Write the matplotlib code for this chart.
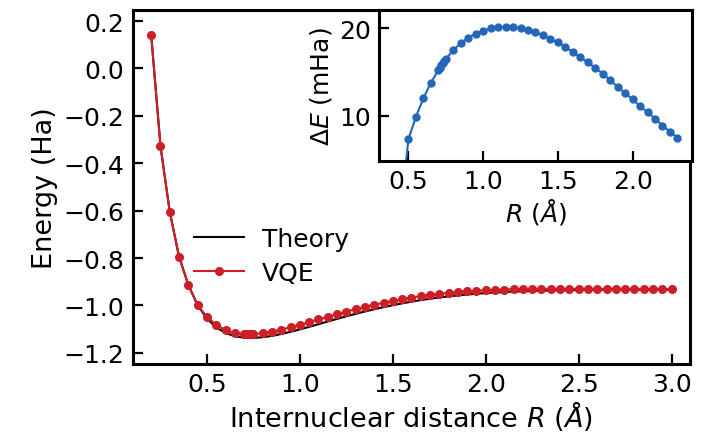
import matplotlib
matplotlib.use("Agg")
import matplotlib.pyplot as plt

plt.rcParams['font.family'] = ['DejaVu Sans']
plt.rcParams['font.size'] = 18
plt.rcParams['mathtext.fontset'] = 'dejavusans'

# bond lengths (Å)
r_main = [0.20, 0.25, 0.30, 0.35, 0.40, 0.45, 0.50, 0.55, 0.60, 0.65,
          0.70, 0.71, 0.72, 0.73, 0.74, 0.75, 0.80, 0.85, 0.90, 0.95,
          1.00, 1.05, 1.10, 1.15, 1.20, 1.25, 1.30, 1.35, 1.40, 1.45,
          1.50, 1.55, 1.60, 1.65, 1.70, 1.75, 1.80, 1.85, 1.90, 1.95,
          2.00, 2.05, 2.10, 2.15, 2.20, 2.25, 2.30, 2.35, 2.40, 2.45,
          2.50, 2.55, 2.60, 2.65, 2.70, 2.75, 2.80, 2.85, 2.90, 2.95, 3.00]

# exact energies (Ha)
e_theory = [0.140, -0.328, -0.606, -0.795, -0.9141, -0.9995, -1.0552, -1.0926, -1.1163, -1.1299,
            -1.1362, -1.1367, -1.1371, -1.1373, -1.1373, -1.1371, -1.1341, -1.1284, -1.1206, -1.1113,
            -1.1012, -1.0904, -1.0792, -1.0679, -1.0567, -1.0458, -1.0355, -1.0256, -1.0162, -1.0073,
            -0.9990, -0.9913, -0.9842, -0.9777, -0.9718, -0.9665, -0.9618, -0.9576, -0.9539, -0.9507,
            -0.9479, -0.9455, -0.9434, -0.9416, -0.9401, -0.9388, -0.9377, -0.9368, -0.9360, -0.9354,
            -0.9349, -0.9345, -0.9342, -0.9339, -0.9337, -0.9336, -0.9335, -0.9334, -0.9333, -0.9333, -0.9332]

# VQE energies (Ha)
e_vqe = [0.140, -0.328, -0.606, -0.794, -0.9135, -1.0000, -1.0478, -1.0827, -1.1043, -1.1161,
         -1.1210, -1.1212, -1.1213, -1.1213, -1.1210, -1.1206, -1.1166, -1.1101, -1.1017, -1.0919,
         -1.0815, -1.0704, -1.0591, -1.0477, -1.0366, -1.0258, -1.0157, -1.0060, -0.9970, -0.9885,
         -0.9806, -0.9734, -0.9669, -0.9610, -0.9557, -0.9510, -0.9470, -0.9435, -0.9406, -0.9381,
         -0.9360, -0.9344, -0.9330, -0.9319, -0.9312, -0.9306, -0.9302, -0.9301, -0.9301, -0.9302,
         -0.9302, -0.9303, -0.9303, -0.9304, -0.9304, -0.9305, -0.9305, -0.9306, -0.9306, -0.9307, -0.9307]

# inset: VQE error (mHa)
r_inset = [0.40, 0.45, 0.50, 0.55, 0.60, 0.65, 0.70, 0.71, 0.72, 0.73, 0.74, 0.75,
           0.80, 0.85, 0.90, 0.95, 1.00, 1.05, 1.10, 1.15, 1.20, 1.25, 1.30, 1.35,
           1.40, 1.45, 1.50, 1.55, 1.60, 1.65, 1.70, 1.75, 1.80, 1.85, 1.90, 1.95,
           2.00, 2.05, 2.10, 2.15, 2.20, 2.25, 2.30]
de_inset = [-8.0, -0.5, 7.35, 9.9, 12.0, 13.8, 15.2, 15.5, 15.8, 16.0, 16.3, 16.5,
            17.5, 18.3, 18.9, 19.4, 19.7, 20.0, 20.1, 20.15, 20.1, 20.0, 19.8, 19.55,
            19.2, 18.8, 18.4, 17.85, 17.3, 16.7, 16.1, 15.5, 14.8, 14.1, 13.3, 12.6,
            11.9, 11.1, 10.4, 9.7, 8.9, 8.2, 7.5]

red = '#cc1f28'
blue = '#2466b8'

fig = plt.figure(figsize=(7.13, 4.35), dpi=100)
ax = fig.add_axes([0.186, 0.161, 0.782, 0.814])

ax.plot(r_main, e_theory, color='black', lw=1.5, label='Theory', zorder=2)
ax.plot(r_main, e_vqe, color=red, lw=1.5, marker='o', ms=5.5, label='VQE', zorder=3)

ax.set_xlim(0.1, 3.1)
ax.set_ylim(-1.247, 0.247)
ax.set_xticks([0.5, 1.0, 1.5, 2.0, 2.5, 3.0])
ax.set_yticks([0.2, 0.0, -0.2, -0.4, -0.6, -0.8, -1.0, -1.2])
ax.set_xlabel(r'Internuclear distance $R$ ($\AA$)', fontsize=19.5, labelpad=1)
ax.set_ylabel('Energy (Ha)', fontsize=19.5, labelpad=4)
ax.tick_params(direction='in', length=7, width=1.6, pad=6)
for s in ax.spines.values():
    s.set_linewidth(2.2)

ax.legend(loc='upper left', bbox_to_anchor=(0.07, 0.45), frameon=False,
          handlelength=2.0, handletextpad=0.7, labelspacing=0.4)

# inset
axi = fig.add_axes([0.532, 0.628, 0.438, 0.347])
axi.plot(r_inset, de_inset, color=blue, lw=1.5, marker='o', ms=5)
axi.set_xlim(0.305, 2.395)
axi.set_ylim(4.87, 22.1)
axi.set_xticks([0.5, 1.0, 1.5, 2.0])
axi.set_yticks([10, 20])
axi.set_xlabel(r'$R$ ($\AA$)', labelpad=2)
axi.set_ylabel(r'$\Delta E$ (mHa)', labelpad=4)
axi.tick_params(direction='in', length=7, width=1.6, pad=6)
for s in axi.spines.values():
    s.set_linewidth(2.2)

fig.savefig('out.png', dpi=100)
